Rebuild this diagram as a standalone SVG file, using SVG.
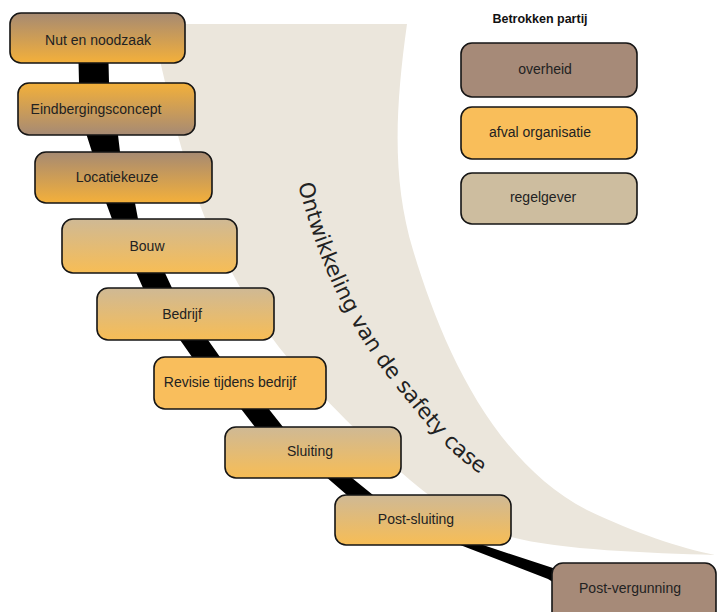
<svg xmlns="http://www.w3.org/2000/svg" width="717" height="612" viewBox="0 0 717 612">
<defs>
<linearGradient id="gBO" x1="0" y1="0" x2="0" y2="1"><stop offset="0" stop-color="#a68a72"/><stop offset="1" stop-color="#f4b03a"/></linearGradient>
<linearGradient id="gOB" x1="0" y1="0" x2="0" y2="1"><stop offset="0" stop-color="#f3b03a"/><stop offset="1" stop-color="#a68a74"/></linearGradient>
<linearGradient id="gTO" x1="0" y1="0" x2="0" y2="1"><stop offset="0" stop-color="#cfb995"/><stop offset="1" stop-color="#f7bd55"/></linearGradient>
<path id="arc" d="M 298,184 C 320,270 352,332 393,383 S 446,450 480,474"/>
</defs>
<style>
.box{stroke:#151515;stroke-width:1.6}
.t{font-family:"Liberation Sans",Arial,sans-serif;font-size:14px;fill:#222;text-anchor:middle}
.title{font-family:"Liberation Sans",Arial,sans-serif;font-size:12.5px;font-weight:bold;fill:#111;text-anchor:middle}
.arc{font-family:"DejaVu Sans",sans-serif;font-size:21.5px;fill:#222}
</style>
<g id="band">
<path d="M 150,24 L 407,24 C 395,110 392,180 413,250 C 440,340 490,460 587,510 C 635,533 680,548 715,555 C 650,553 560,550 511,537 C 470,527 440,505 410,480 C 370,445 320,395 287,357 C 260,325 235,280 215,240 C 195,200 175,130 165,82 C 160,60 155,40 152,24 Z" fill="#ebe6dc"/>
<text class="arc"><textPath href="#arc">Ontwikkeling van de safety case</textPath></text>
</g>
<g id="connectors">
<path d="M 78,40 L 79,83 L 85,130 L 92,152 L 105,200 L 112,219 L 135,270 L 143,288 L 178,337 L 192,357 L 238,405 L 255,427 L 325,476 L 347,495 L 455,543 L 548,579 L 556,584 L 556,569 L 483,545 L 373,495 L 352,478 L 283,427 L 268,408 L 220,357 L 208,340 L 172,288 L 165,273 L 138,219 L 135,203 L 120,152 L 118,135 L 109,83 L 108,40 Z" fill="#000"/>
</g>
<g id="n1"><rect class="box" x="10" y="13" width="175" height="50" rx="11" fill="url(#gBO)"/><text class="t" x="98" y="45">Nut en noodzaak</text></g>
<g id="n2"><rect class="box" x="18" y="83" width="177" height="52" rx="11" fill="url(#gOB)"/><text class="t" x="96" y="114">Eindbergingsconcept</text></g>
<g id="n3"><rect class="box" x="35" y="152" width="177" height="51" rx="11" fill="url(#gBO)"/><text class="t" x="117" y="182">Locatiekeuze</text></g>
<g id="n4"><rect class="box" x="62" y="219" width="175" height="54" rx="11" fill="url(#gTO)"/><text class="t" x="147" y="251">Bouw</text></g>
<g id="n5"><rect class="box" x="97" y="288" width="177" height="52" rx="11" fill="url(#gTO)"/><text class="t" x="182" y="319">Bedrijf</text></g>
<g id="n6"><rect class="box" x="154" y="357" width="172" height="52" rx="11" fill="#f9be5c"/><text class="t" x="230" y="387">Revisie tijdens bedrijf</text></g>
<g id="n7"><rect class="box" x="225" y="427" width="176" height="51" rx="11" fill="url(#gTO)"/><text class="t" x="310" y="456">Sluiting</text></g>
<g id="n8"><rect class="box" x="335" y="495" width="176" height="50" rx="11" fill="url(#gTO)"/><text class="t" x="416" y="524">Post-sluiting</text></g>
<g id="n9"><rect class="box" x="552" y="563" width="164" height="60" rx="11" fill="#a68a78"/><text class="t" x="630" y="593">Post-vergunning</text></g>
<g id="legend">
<text class="title" x="540" y="23">Betrokken partij</text>
<g id="l1"><rect class="box" x="461" y="43" width="176" height="54" rx="11" fill="#a68a78"/><text class="t" x="545" y="74">overheid</text></g>
<g id="l2"><rect class="box" x="461" y="107" width="176" height="52" rx="11" fill="#f9be5a"/><text class="t" x="540" y="137">afval organisatie</text></g>
<g id="l3"><rect class="box" x="461" y="173" width="176" height="51" rx="11" fill="#cdbd9f"/><text class="t" x="543" y="202">regelgever</text></g>
</g>
</svg>
